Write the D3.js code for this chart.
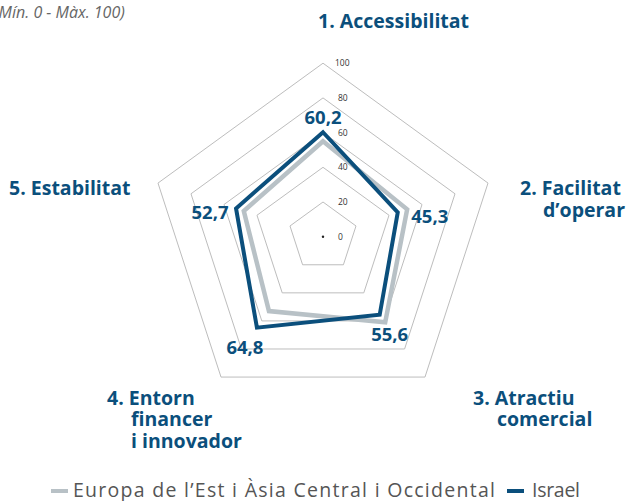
<!DOCTYPE html>
<html lang="ca">
<head>
<meta charset="UTF-8">
<title>Radar</title>
<script src="https://cdn.jsdelivr.net/npm/d3@7"></script>
<style>
  body { margin: 0; background: #fff; }
  svg { display: block; font-family: "Open Sans", "Noto Sans", sans-serif; }
</style>
</head>
<body>
<svg width="631" height="501"></svg>
<script>
// data
var axes = ["1. Accessibilitat", "2. Facilitat d’operar", "3. Atractiu comercial", "4. Entorn financer i innovador", "5. Estabilitat"];
var regionValues = [55, 51, 61, 53, 48];
var israelValues = [60.2, 45.3, 55.6, 64.8, 52.7];
var ticks = [0, 20, 40, 60, 80, 100];
var seriesNames = ["Europa de l’Est i Àsia Central i Occidental", "Israel"];

var blue = "#0b4f7c", grey = "#b8c1c6";
var svg = d3.select("svg");
var cx = 323, cy = 236.7;
var r = d3.scaleLinear().domain([0, 100]).range([0, 173.5]);
var angle = function (i) { return -Math.PI / 2 + i * 2 * Math.PI / axes.length; };
var pt = function (v, i) { return [cx + r(v) * Math.cos(angle(i)), cy + r(v) * Math.sin(angle(i))]; };

// grid pentagons
ticks.slice(1).forEach(function (t) {
    svg.append("path")
        .attr("d", d3.line()(axes.map(function (a, i) { return pt(t, i); })) + "Z")
        .attr("fill", "none").attr("stroke", "#bdbdbd").attr("stroke-width", 1);
});
svg.append("circle").attr("cx", cx).attr("cy", cy).attr("r", 1.2).attr("fill", "#222");

// tick labels
svg.selectAll(".tick").data(ticks).enter().append("text")
    .attr("x", function (d) { return cx + (d === 100 ? 12 : 15); })
    .attr("y", function (d) { return cy - r(d) + 3; })
    .attr("font-size", 8.5).attr("fill", "#333")
    .text(function (d) { return d; });

// series
function poly(vals, color, w) {
    svg.append("path")
        .attr("d", d3.line()(vals.map(pt)) + "Z")
        .attr("fill", "none").attr("stroke", color).attr("stroke-width", w)
        .attr("stroke-linejoin", "miter");
}
poly(regionValues, grey, 4.5);
poly(israelValues, blue, 4);

// value labels
var valOffsets = [[0, -15], [32, 4], [10, 20], [-12, 20], [-26, 4]];
svg.selectAll(".val").data(israelValues).enter().append("text")
    .attr("x", function (d, i) { return pt(d, i)[0] + valOffsets[i][0]; })
    .attr("y", function (d, i) { return pt(d, i)[1] + valOffsets[i][1] + 6.5; })
    .attr("text-anchor", "middle")
    .attr("font-size", 18.5).attr("font-weight", "bold").attr("fill", blue)
    .text(function (d) { return d3.format(".1f")(d).replace(".", ","); });

// axis labels: one text per axis, lines as tspans (hanging indent)
var labelLines = [
    [["1. Accessibilitat", 318, 28]],
    [["2. Facilitat", 520, 195], ["d’operar", 543, 217]],
    [["3. Atractiu", 473, 405], ["comercial", 497, 426]],
    [["4. Entorn", 107, 405], ["financer", 131, 426], ["i innovador", 131, 448]],
    [["5. Estabilitat", 9, 195]]
];
labelLines.forEach(function (lines) {
    var t = svg.append("text")
        .attr("font-size", 19.5).attr("font-weight", "bold").attr("fill", blue);
    lines.forEach(function (l) {
        t.append("tspan").attr("x", l[1]).attr("y", l[2]).text(l[0]);
    });
});

// subtitle, cut off at the left edge
svg.append("text").attr("x", -6).attr("y", 18)
    .attr("font-size", 16).attr("font-style", "italic").attr("fill", "#666")
    .text("(Mín. 0 - Màx. 100)");

// legend
var legend = [[51, 73, grey, 422], [507, 532, blue, 48]];
seriesNames.forEach(function (n, i) {
    svg.append("line").attr("x1", legend[i][0]).attr("x2", legend[i][0] + 17)
        .attr("y1", 491).attr("y2", 491)
        .attr("stroke", legend[i][2]).attr("stroke-width", 4);
    svg.append("text").attr("x", legend[i][1]).attr("y", 496.5)
        .attr("font-size", 19.5).attr("fill", "#555")
        .attr("textLength", legend[i][3]).attr("lengthAdjust", "spacing")
        .text(n);
});
</script>
</body>
</html>
